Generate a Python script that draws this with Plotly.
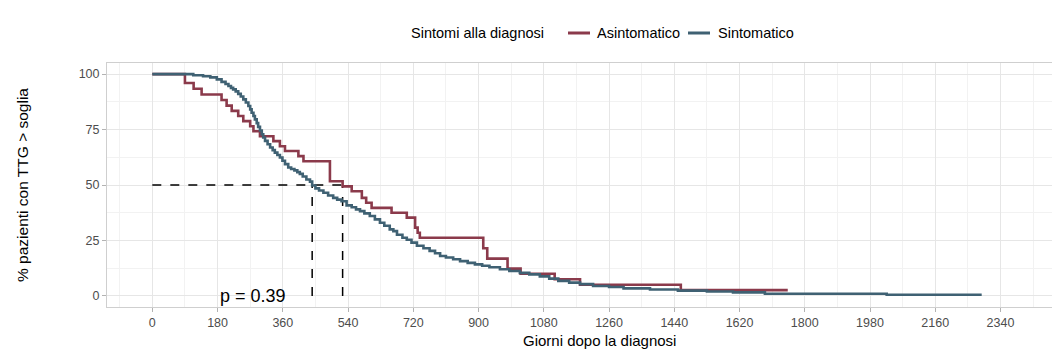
import plotly.graph_objects as go

# Kaplan-Meier estimates: days since diagnosis and % of patients with TTG above threshold
asint_days = [0, 90, 114, 136, 191, 205, 219, 237, 251, 270, 279, 297, 334, 352, 366,
              403, 417, 490, 525, 550, 578, 590, 605, 660, 702, 725, 732, 738, 913, 924,
              980, 1016, 1110, 1180, 1458, 1753]
asint_pct = [100, 96.0, 93.4, 90.8, 88.3, 85.8, 83.4, 81.1, 78.8, 76.5, 74.2, 72.0, 69.8,
             67.5, 65.3, 63.0, 60.7, 51.7, 49.4, 47.2, 44.2, 42.0, 39.7, 37.5, 35.3, 30.8,
             28.5, 26.2, 21.5, 16.8, 12.3, 10.0, 7.5, 5.0, 2.6, 2.6]

sint_days = [0, 113, 140, 160, 178, 191, 202, 210, 217, 223, 230, 237, 244, 251, 258, 265,
             270, 274, 279, 283, 288, 292, 297, 302, 306, 311, 318, 325, 332, 338, 345, 352,
             359, 366, 375, 383, 392, 400, 407, 415, 425, 435, 441, 450, 460, 472, 485, 499,
             510, 522, 536, 550, 562, 573, 585, 600, 614, 628, 640, 655, 665, 675, 690, 702,
             715, 730, 748, 765, 780, 794, 810, 830, 849, 870, 890, 910, 930, 959, 985, 1014,
             1040, 1069, 1095, 1120, 1150, 1180, 1216, 1260, 1300, 1373, 1450, 1530, 1602,
             1690, 2026, 2288]
sint_pct = [100, 99.5, 99.0, 98.5, 97.6, 96.5, 95.5, 94.6, 93.8, 93.1, 92.2, 91.1, 89.9,
            88.6, 87.2, 85.6, 84.1, 82.6, 81.1, 79.6, 77.9, 76.2, 74.6, 72.9, 71.4, 69.9,
            68.4, 66.9, 65.7, 64.6, 63.5, 62.4, 60.9, 59.4, 57.9, 57.2, 56.6, 55.8, 55.0,
            53.8, 52.5, 51.5, 49.8, 48.5, 47.5, 46.5, 45.3, 44.2, 43.4, 42.7, 40.8, 40.0,
            39.0, 38.2, 37.2, 36.0, 34.5, 33.0, 31.6, 30.0, 29.2, 27.6, 26.2, 25.3, 24.0,
            22.6, 21.5, 20.3, 19.2, 18.0, 17.3, 16.5, 15.7, 14.9, 14.2, 13.6, 12.9, 12.0,
            11.2, 10.4, 9.7, 8.8, 7.8, 6.8, 6.0, 5.3, 4.5, 4.0, 3.4, 2.9, 2.4, 2.0, 1.6,
            1.0, 0.5, 0.5]

median_days = {"Sintomatico": 441, "Asintomatico": 525}
median_level = 50
p_value_text = "p = 0.39"

x_ticks = list(range(0, 2341, 180))
y_ticks = [0, 25, 50, 75, 100]

RED = "#8b3a4b"
BLUE = "#3f6173"
FONT = "Liberation Sans, Arial, Helvetica, sans-serif"

fig = go.Figure()

# median reference lines
dash_style = dict(color="black", width=1.5, dash="dash")
fig.add_trace(go.Scatter(x=[0, max(median_days.values())], y=[median_level, median_level],
                         mode="lines", line=dash_style, hoverinfo="skip", showlegend=False))
for name, d in median_days.items():
    fig.add_trace(go.Scatter(x=[d, d], y=[0, median_level], mode="lines", line=dash_style,
                             hoverinfo="skip", showlegend=False))

fig.add_trace(go.Scatter(x=asint_days, y=asint_pct, mode="lines", name="Asintomatico",
                         line=dict(color=RED, width=2.6, shape="hv"), showlegend=False))
fig.add_trace(go.Scatter(x=sint_days, y=sint_pct, mode="lines", name="Sintomatico",
                         line=dict(color=BLUE, width=2.6, shape="hv"), showlegend=False))

# geometry helpers for paper coordinates
L, R, T, B, W, H = 107, 0, 63, 49, 1052, 356
pw, ph = W - L - R, H - T - B


def px(xp):
    return (xp - L) / pw


def py(yp):
    return (H - B - yp) / ph


LEG_Y = py(33)
annotations = [
    dict(text=p_value_text, x=278, y=0, xref="x", yref="y", showarrow=False,
         font=dict(family=FONT, size=18, color="black"), xanchor="center", yanchor="middle"),
    dict(text="Giorni dopo la diagnosi", x=px(599), y=py(340), xref="paper", yref="paper",
         showarrow=False, font=dict(family=FONT, size=15, color="black"),
         xanchor="center", yanchor="middle"),
    dict(text="% pazienti con TTG > soglia", x=px(22), y=0.5, xref="paper", yref="paper",
         showarrow=False, textangle=-90, font=dict(family=FONT, size=15.5, color="black"),
         xanchor="center", yanchor="middle"),
    # legend
    dict(text="Sintomi alla diagnosi", x=px(409), y=LEG_Y, xref="paper", yref="paper",
         showarrow=False, font=dict(family=FONT, size=14.5, color="black"),
         xanchor="left", yanchor="middle"),
    dict(text="Asintomatico", x=px(595), y=LEG_Y, xref="paper", yref="paper",
         showarrow=False, font=dict(family=FONT, size=14.5, color="black"),
         xanchor="left", yanchor="middle"),
    dict(text="Sintomatico", x=px(716), y=LEG_Y, xref="paper", yref="paper",
         showarrow=False, font=dict(family=FONT, size=14.5, color="black"),
         xanchor="left", yanchor="middle"),
]
shapes = [
    dict(type="line", xref="paper", yref="paper", x0=px(568), x1=px(590), y0=LEG_Y, y1=LEG_Y,
         line=dict(color=RED, width=3)),
    dict(type="line", xref="paper", yref="paper", x0=px(688), x1=px(710), y0=LEG_Y, y1=LEG_Y,
         line=dict(color=BLUE, width=3)),
]

axis_common = dict(
    showline=True, linecolor="#cfcfcf", linewidth=1, mirror=True,
    ticks="outside", ticklen=4, tickcolor="#b3b3b3", tickwidth=1,
    tickfont=dict(family=FONT, size=12.5, color="#4d4d4d"),
    gridcolor="#e6e6e6", gridwidth=1, zeroline=False,
)

fig.update_layout(
    width=W, height=H,
    margin=dict(l=L, r=R, t=T, b=B),
    paper_bgcolor="white", plot_bgcolor="white",
    xaxis=dict(range=[-125, 2482], tickmode="array", tickvals=x_ticks,
               minor=dict(dtick=90, tick0=0, showgrid=True, gridcolor="#f2f2f2", gridwidth=1,
                          ticks=""),
               **axis_common),
    yaxis=dict(range=[-5, 105], tickmode="array", tickvals=y_ticks,
               minor=dict(dtick=12.5, tick0=0, showgrid=True, gridcolor="#f2f2f2", gridwidth=1,
                          ticks=""),
               **axis_common),
    annotations=annotations,
    shapes=shapes,
    showlegend=False,
)

fig.write_html("out.html")
